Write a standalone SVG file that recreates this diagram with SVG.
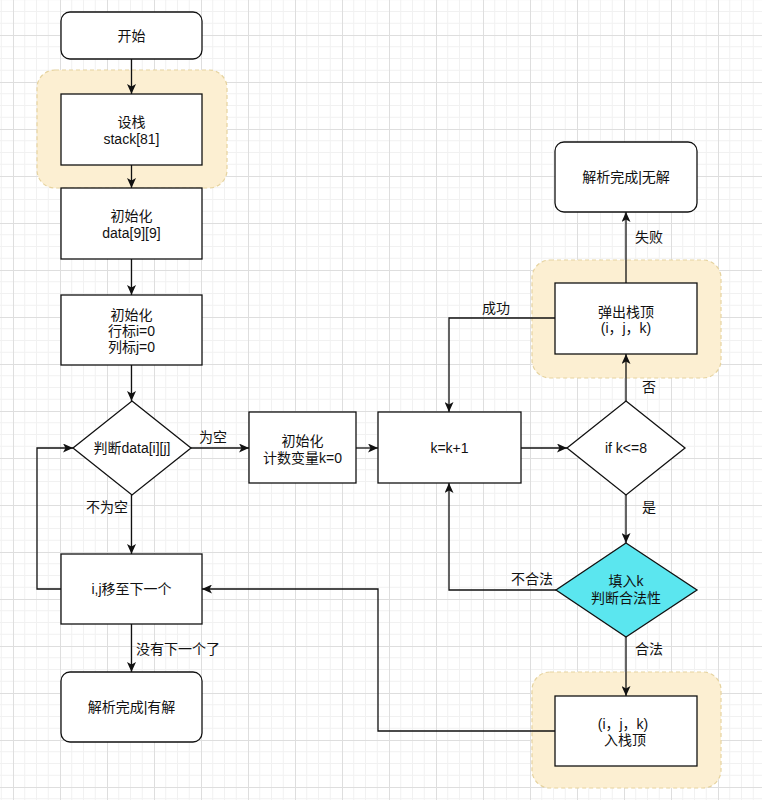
<svg xmlns="http://www.w3.org/2000/svg" width="762" height="800" viewBox="0 0 762 800">
<defs>
<pattern id="grid" x="13" y="35" width="47" height="47" patternUnits="userSpaceOnUse">
<path d="M11.75 0V47M23.5 0V47M35.25 0V47M0 11.75H47M0 23.5H47M0 35.25H47" stroke="#f1f1f1" stroke-width="1" fill="none"/>
<path d="M0.5 0V47M0 0.5H47" stroke="#dedede" stroke-width="1" fill="none"/>
</pattern>
<marker id="arr" markerUnits="userSpaceOnUse" markerWidth="10" markerHeight="9" refX="10" refY="4.5" orient="auto">
<path d="M0,0 L10,4.5 L0,9 L2.5,4.5 z" fill="#111"/>
</marker>
<style>
text{font-family:"Liberation Sans","Noto Sans CJK SC",sans-serif;font-size:14px;fill:#111;text-anchor:middle;dominant-baseline:central}
.box{fill:#fff;stroke:#111;stroke-width:1.3}
.hl{fill:#fcefd2;stroke:#e6d39f;stroke-width:1.2;stroke-dasharray:4 3}
.dia{fill:#fff;stroke:#111;stroke-width:1.3}
.cyan{fill:#5be6ef;stroke:#111;stroke-width:1.3}
.e{fill:none;stroke:#111;stroke-width:1.3;marker-end:url(#arr)}
</style>
</defs>
<rect x="0" y="0" width="762" height="800" fill="#fff"/>
<rect x="0" y="0" width="762" height="800" fill="url(#grid)"/>

<g id="highlights">
<rect class="hl" x="37" y="70" width="190" height="118" rx="18"/>
<rect class="hl" x="532" y="260" width="189" height="118" rx="18"/>
<rect class="hl" x="532" y="672" width="189" height="116" rx="18"/>
</g>

<g id="connectors">
<path class="e" d="M131.5 59V94"/>
<path class="e" d="M131.5 165V188"/>
<path class="e" d="M131.5 259V295"/>
<path class="e" d="M131.5 365V401"/>
<path class="e" d="M191 448H249"/>
<path class="e" d="M356 448H378"/>
<path class="e" d="M521 448H567"/>
<path class="e" d="M626 401V354"/>
<path class="e" d="M626 283V212"/>
<path class="e" d="M555 318H449V412"/>
<path class="e" d="M626 495V543"/>
<path class="e" d="M556 590H449V483"/>
<path class="e" d="M626 637V696"/>
<path class="e" d="M555 731H378V589H202"/>
<path class="e" d="M61 589H37V448H73"/>
<path class="e" d="M131.5 495V554"/>
<path class="e" d="M131.5 624V672"/>
<text x="213" y="437">为空</text>
<text x="107" y="507">不为空</text>
<text x="178" y="649">没有下一个了</text>
<text x="649" y="387">否</text>
<text x="649" y="237">失败</text>
<text x="496" y="308">成功</text>
<text x="649" y="507">是</text>
<text x="532" y="579">不合法</text>
<text x="649" y="649">合法</text>
</g>

<g id="start">
<rect class="box" x="61" y="12" width="141" height="47" rx="9"/>
<text x="131.5" y="36">开始</text>
</g>
<g id="stack">
<rect class="box" x="61" y="94" width="141" height="71"/>
<text x="131.5" y="122">设栈</text>
<text x="131.5" y="139">stack[81]</text>
</g>
<g id="initData">
<rect class="box" x="61" y="188" width="141" height="71"/>
<text x="131.5" y="216">初始化</text>
<text x="131.5" y="233">data[9][9]</text>
</g>
<g id="initIJ">
<rect class="box" x="61" y="295" width="141" height="70"/>
<text x="131.5" y="315">初始化</text>
<text x="131.5" y="331">行标i=0</text>
<text x="131.5" y="347">列标j=0</text>
</g>
<g id="judgeData">
<polygon class="dia" points="132,401 191,448 132,495 73,448"/>
<text x="132" y="448">判断data[i][j]</text>
</g>
<g id="initK">
<rect class="box" x="249" y="412" width="107" height="71"/>
<text x="302.5" y="441">初始化</text>
<text x="302.5" y="458">计数变量k=0</text>
</g>
<g id="kInc">
<rect class="box" x="378" y="412" width="143" height="71"/>
<text x="449.5" y="448">k=k+1</text>
</g>
<g id="ifK">
<polygon class="dia" points="626,401 685,448 626,495 567,448"/>
<text x="626" y="448">if k&lt;=8</text>
</g>
<g id="noSolution">
<rect class="box" x="555" y="142" width="142" height="70" rx="9"/>
<text x="626" y="177">解析完成|无解</text>
</g>
<g id="pop">
<rect class="box" x="555" y="283" width="142" height="71"/>
<text x="626" y="312">弹出栈顶</text>
<text x="626" y="328">(i，j，k)</text>
</g>
<g id="fillK">
<polygon class="cyan" points="626,543 697,590 626,637 556,590"/>
<text x="626" y="581">填入k</text>
<text x="626" y="598">判断合法性</text>
</g>
<g id="push">
<rect class="box" x="555" y="696" width="142" height="70"/>
<text x="623" y="724">(i，j，k)</text>
<text x="625" y="740">入栈顶</text>
</g>
<g id="nextIJ">
<rect class="box" x="61" y="554" width="141" height="70"/>
<text x="131.5" y="589">i,j移至下一个</text>
</g>
<g id="solved">
<rect class="box" x="61" y="672" width="141" height="70" rx="9"/>
<text x="131.5" y="707">解析完成|有解</text>
</g>
</svg>
